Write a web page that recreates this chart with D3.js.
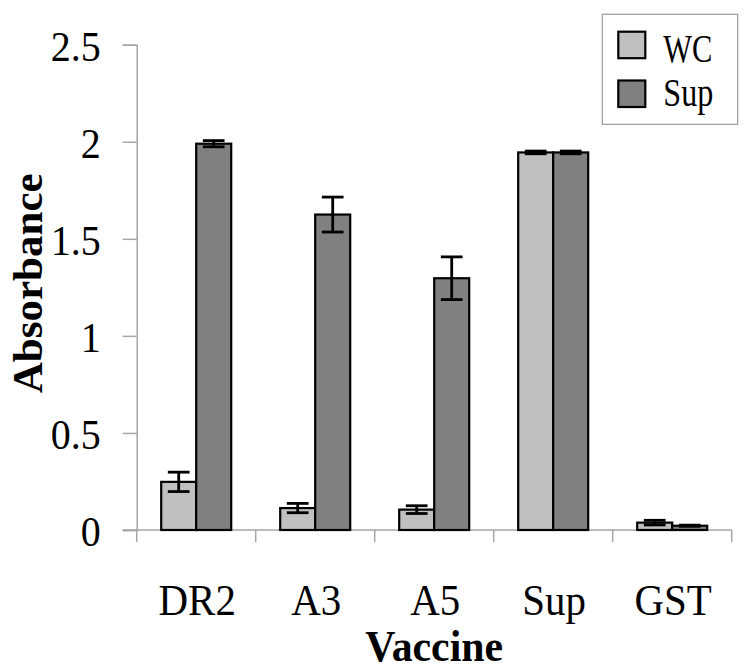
<!DOCTYPE html>
<html>
<head>
<meta charset="utf-8">
<script src="https://cdn.jsdelivr.net/npm/d3@7"></script>
<style>
  html, body { margin: 0; padding: 0; background: #fff; }
  svg { display: block; }
  text { font-family: "Liberation Serif", "Times New Roman", serif; fill: #000; }
</style>
</head>
<body>
<svg id="chart" width="750" height="671"></svg>
<script>
const categories = ["DR2", "A3", "A5", "Sup", "GST"];
const seriesNames = ["WC", "Sup"];
const wcValues = [0.248, 0.113, 0.105, 1.945, 0.038];
const wcErrors = [0.05, 0.024, 0.02, 0.007, 0.012];
const supValues = [1.99, 1.625, 1.297, 1.945, 0.022];
const supErrors = [0.016, 0.09, 0.11, 0.007, 0.003];
const yTicks = [0, 0.5, 1, 1.5, 2, 2.5];
const yTickLabels = ["0", "0.5", "1", "1.5", "2", "2.5"];
const seriesColors = ["#c0c0c0", "#808080"];

const svg = d3.select("#chart");
const margin = { left: 136.7, right: 18.3, top: 44.7, bottom: 141 };
const W = 750, H = 671;
const x0 = margin.left, x1 = W - margin.right;
const yTop = margin.top, yBot = H - margin.bottom;

const x = d3.scaleBand().domain(categories).range([x0, x1]).paddingInner(0).paddingOuter(0);
const xs = d3.scaleBand().domain(seriesNames).range([0, x.bandwidth()]).paddingInner(0).paddingOuter(0.7);
const y = d3.scaleLinear().domain([0, 2.5]).range([yBot, yTop]);

const axisColor = "#a6a6a6";

function compress(sel, f) {
  sel.each(function () {
    const L = this.getComputedTextLength();
    d3.select(this).attr("textLength", L * f).attr("lengthAdjust", "spacingAndGlyphs");
  });
}

// Y axis
const yAxis = d3.axisLeft(y).tickValues(yTicks)
  .tickFormat((d, i) => yTickLabels[i]).tickSize(14).tickPadding(22);
const gy = svg.append("g").attr("transform", `translate(${x0},0)`).call(yAxis);
gy.select(".domain").attr("stroke", axisColor).attr("stroke-width", 1.5);
gy.selectAll(".tick line").attr("stroke", axisColor).attr("stroke-width", 1.5);
gy.selectAll(".tick text").attr("font-size", 43).attr("dy", "0.37em")
  .style("font-family", "'Liberation Serif', serif");
compress(gy.selectAll(".tick text"), 0.93);

// X axis (category boundary ticks)
const boundaries = categories.map(c => x(c)).concat([x1]);
const gx = svg.append("g");
gx.append("line").attr("x1", x0 - 14).attr("x2", x1).attr("y1", yBot).attr("y2", yBot)
  .attr("stroke", axisColor).attr("stroke-width", 1.5);
gx.selectAll("line.tk").data(boundaries).join("line").attr("class", "tk")
  .attr("x1", d => d).attr("x2", d => d).attr("y1", yBot).attr("y2", yBot + 12)
  .attr("stroke", axisColor).attr("stroke-width", 1.5);
const catText = gx.selectAll("text.cat").data(categories).join("text").attr("class", "cat")
  .attr("x", d => x(d) + x.bandwidth() / 2 + 1).attr("y", 615)
  .attr("text-anchor", "middle").attr("font-size", 44).text(d => d);
compress(catText, 0.93);

// Bars
const series = [
  { name: "WC", values: wcValues, errors: wcErrors, color: seriesColors[0] },
  { name: "Sup", values: supValues, errors: supErrors, color: seriesColors[1] }
];
const rows = [];
series.forEach(s => categories.forEach((c, i) => rows.push({ c, s: s.name, v: s.values[i], e: s.errors[i], color: s.color })));

svg.append("g").selectAll("rect").data(rows).join("rect")
  .attr("x", d => x(d.c) + xs(d.s))
  .attr("y", d => y(d.v))
  .attr("width", xs.bandwidth())
  .attr("height", d => y(0) - y(d.v))
  .attr("fill", d => d.color)
  .attr("stroke", "#000").attr("stroke-width", 2.2);

// Error bars
const capW = 21.7;
const eg = svg.append("g").attr("stroke", "#000").attr("stroke-width", 2.8);
rows.forEach(d => {
  const cx = x(d.c) + xs(d.s) + xs.bandwidth() / 2;
  const yt = y(d.v + d.e), yb = y(Math.max(0, d.v - d.e));
  eg.append("line").attr("x1", cx).attr("x2", cx).attr("y1", yt).attr("y2", yb);
  eg.append("line").attr("x1", cx - capW / 2).attr("x2", cx + capW / 2).attr("y1", yt).attr("y2", yt);
  eg.append("line").attr("x1", cx - capW / 2).attr("x2", cx + capW / 2).attr("y1", yb).attr("y2", yb);
});

// Axis titles
const vt = svg.append("text").attr("x", (x0 + x1) / 2).attr("y", 661)
  .attr("text-anchor", "middle").attr("font-size", 44).attr("font-weight", "bold").text("Vaccine");
compress(vt, 0.95);
svg.append("text").attr("transform", `translate(42,${(yTop + yBot) / 2 - 4}) rotate(-90)`)
  .attr("text-anchor", "middle").attr("font-size", 43).attr("font-weight", "bold").text("Absorbance");

// Legend
const lg = svg.append("g");
lg.append("rect").attr("x", 602.3).attr("y", 14.3).attr("width", 135.4).attr("height", 110)
  .attr("fill", "#fff").attr("stroke", "#9a9a9a").attr("stroke-width", 1.2);
const legendY = [31.7, 80.5];
const legendBase = [61.7, 105.7];
const legendLen = [49, 50];
seriesNames.forEach((n, i) => {
  lg.append("rect").attr("x", 618.3).attr("y", legendY[i]).attr("width", 27).attr("height", 26.5)
    .attr("fill", seriesColors[i]).attr("stroke", "#000").attr("stroke-width", 2.2);
  lg.append("text").attr("x", 663.3).attr("y", legendBase[i]).attr("font-size", 41)
    .attr("textLength", legendLen[i]).attr("lengthAdjust", "spacingAndGlyphs").text(n);
});
</script>
</body>
</html>
